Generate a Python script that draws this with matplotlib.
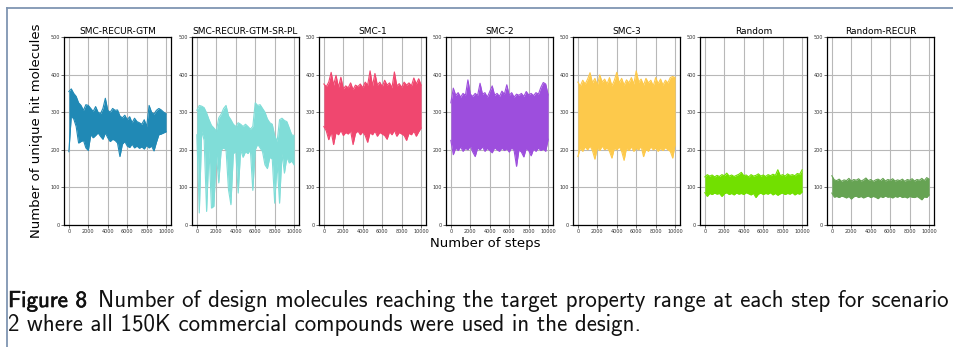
import matplotlib
matplotlib.use("Agg")
import matplotlib.pyplot as plt
import matplotlib.patheffects as pe
from matplotlib.lines import Line2D
import numpy as np

steps = np.arange(0, 10001, 250)

names = ["SMC-RECUR-GTM", "SMC-RECUR-GTM-SR-PL", "SMC-1", "SMC-2", "SMC-3",
         "Random", "Random-RECUR"]
colors = ["#2089b5", "#80ddd8", "#f0476f", "#9d4edd", "#fdc94b", "#72e000", "#66a353"]

# upper / lower edge of each noisy trace
hi_gtm = [355, 362, 350, 342, 325, 318, 305, 320, 318, 310, 302, 315, 300, 296, 310, 337, 305,
          300, 310, 305, 306, 290, 285, 292, 280, 288, 272, 284, 275, 272, 268, 280, 262, 318,
          300, 295, 305, 310, 306, 300, 296]
lo_gtm = [195, 290, 282, 262, 218, 222, 225, 205, 198, 240, 232, 238, 245, 236, 228, 245, 232,
          222, 228, 225, 218, 182, 215, 222, 210, 206, 215, 205, 210, 204, 208, 202, 212, 205,
          210, 197, 220, 240, 242, 245, 248]

hi_srpl = [305, 318, 316, 312, 298, 280, 265, 258, 250, 285, 295, 310, 318, 290, 280, 268, 262,
           272, 268, 262, 268, 262, 255, 262, 325, 318, 320, 310, 300, 282, 272, 268, 238, 222,
           280, 284, 278, 275, 258, 240, 238]
lo_srpl = [240, 32, 250, 225, 36, 200, 45, 50, 190, 112, 200, 205, 200, 94, 54, 190, 195,
           85, 200, 180, 195, 190, 200, 92, 200, 215, 205, 195, 160, 150, 180, 175, 58, 165,
           58, 190, 138, 180, 165, 170, 160]

hi_smc1 = [375, 368, 380, 406, 372, 398, 366, 393, 362, 370, 365, 378, 360, 372, 368, 375, 365,
           380, 372, 410, 370, 403, 372, 380, 368, 385, 372, 378, 365, 407, 370, 376, 366, 380,
           372, 378, 370, 391, 375, 389, 372]
lo_smc1 = [262, 250, 227, 248, 214, 246, 240, 252, 238, 246, 242, 250, 214, 244, 250, 240, 248,
           238, 220, 246, 240, 250, 236, 246, 242, 238, 228, 248, 240, 252, 236, 246, 242, 238,
           225, 244, 240, 250, 236, 248, 258]

hi_smc2 = [325, 364, 345, 352, 340, 350, 345, 386, 348, 342, 350, 345, 377, 348, 352, 340, 355,
           370, 345, 350, 342, 356, 348, 373, 345, 352, 340, 348, 345, 350, 342, 355, 346, 350,
           344, 352, 348, 366, 379, 375, 346]
lo_smc2 = [225, 187, 205, 198, 208, 196, 204, 200, 210, 194, 182, 205, 200, 208, 196, 204, 198,
           192, 206, 200, 196, 205, 198, 203, 194, 206, 198, 156, 200, 194, 181, 204, 198, 184,
           202, 196, 205, 198, 202, 196, 228]

hi_smc3 = [380, 370, 385, 375, 388, 405, 378, 390, 372, 399, 380, 388, 375, 392, 370, 385, 406,
           378, 390, 372, 386, 378, 392, 375, 410, 380, 388, 372, 390, 378, 385, 370, 392, 376,
           388, 372, 385, 378, 392, 395, 392]
lo_smc3 = [182, 205, 196, 208, 200, 210, 198, 175, 206, 198, 210, 200, 205, 196, 178, 204, 200,
           208, 196, 172, 205, 198, 208, 196, 204, 200, 210, 182, 202, 196, 208, 200, 205, 196,
           204, 198, 206, 200, 196, 178, 215]

hi_rand = [128, 134, 130, 133, 128, 132, 129, 134, 131, 138, 130, 133, 129, 132, 135, 140, 131,
           133, 128, 134, 130, 132, 136, 130, 133, 129, 134, 131, 135, 132, 147, 131, 134, 130,
           136, 132, 134, 131, 137, 135, 147]
lo_rand = [86, 76, 84, 81, 85, 82, 84, 76, 83, 86, 81, 84, 80, 85, 82, 84, 81,
           86, 83, 80, 84, 73, 82, 85, 81, 84, 82, 86, 80, 84, 79, 83, 85, 81,
           84, 82, 86, 80, 84, 82, 88]

hi_rrec = [131, 120, 118, 122, 116, 120, 118, 124, 117, 121, 119, 123, 117, 120, 125, 118, 121,
           116, 120, 122, 118, 124, 117, 121, 119, 123, 117, 120, 118, 122, 116, 121, 119, 123,
           117, 121, 119, 124, 118, 126, 122]
lo_rrec = [85, 74, 76, 73, 77, 75, 72, 76, 69, 75, 77, 73, 76, 72, 75, 77, 73,
           76, 74, 70, 76, 73, 77, 74, 75, 72, 76, 74, 77, 73, 75, 72, 76, 74,
           73, 76, 72, 67, 75, 73, 80]

highs = [hi_gtm, hi_srpl, hi_smc1, hi_smc2, hi_smc3, hi_rand, hi_rrec]
lows = [lo_gtm, lo_srpl, lo_smc1, lo_smc2, lo_smc3, lo_rand, lo_rrec]

W, H = 954, 347
fig = plt.figure(figsize=(W / 100, H / 100), dpi=100)

lefts = [64, 192, 319, 446, 573, 700, 827]
for i, name in enumerate(names):
    ax = fig.add_axes([lefts[i] / W, (H - 225) / H, 107 / W, 188 / H])
    c = colors[i]
    ax.fill_between(steps, lows[i], highs[i], color=c, lw=0)
    ax.plot(steps, highs[i], color=c, lw=0.8)
    ax.plot(steps, lows[i], color=c, lw=0.8)
    ax.set_ylim(0, 500)
    ax.set_yticks(range(0, 501, 100))
    ax.set_xticks(range(0, 10001, 2000))
    ax.tick_params(labelsize=3.5, length=2, width=0.5, pad=1, colors="#333333")
    ax.grid(True, color="#b8b8b8", lw=0.8)
    ax.set_axisbelow(True)
    for s in ax.spines.values():
        s.set_linewidth(0.9)
    ax.set_title(name, fontsize=6.5, pad=2)

fig.text(37 / W, 1 - 131 / H, "Number of unique hit molecules", rotation=90,
         ha="center", va="center", fontsize=9.5)
fig.text(485 / W, 1 - 243 / H, "Number of steps", ha="center", va="center", fontsize=9.5)

# page frame
frame = "#7f95b2"
fig.add_artist(Line2D([7 / W, 1], [1 - 8 / H, 1 - 8 / H], color=frame, lw=1.3))
fig.add_artist(Line2D([7 / W, 7 / W], [0, 1 - 8 / H], color=frame, lw=1.3))

# caption; the first line should run from x=8 to x=948
cap_font = "cmss10"
ink = "#111111"
rest1 = "Number of design molecules reaching the target property range at each step for scenario"
line2 = "2 where all 150K commercial compounds were used in the design."
gap = 11
r = fig.canvas.get_renderer()
t_bold = fig.text(8 / W, 1 - 307 / H, "Figure 8", fontsize=14, family=cap_font,
                  color=ink, va="baseline",
                  path_effects=[pe.withStroke(linewidth=0.45, foreground=ink)])
t_rest = fig.text(0, 1 - 307 / H, rest1, fontsize=14, family=cap_font, color=ink,
                  va="baseline")
fs = 14.0
for _ in range(4):
    t_bold.set_fontsize(fs)
    t_rest.set_fontsize(fs)
    bx = t_bold.get_window_extent(r).x1 + gap
    t_rest.set_x(bx / W)
    end = t_rest.get_window_extent(r).x1
    fs = fs * (948 - 8) / (end - 8)
t_bold.set_fontsize(fs)
t_rest.set_fontsize(fs)
t_rest.set_x((t_bold.get_window_extent(r).x1 + gap) / W)
fig.text(8 / W, 1 - 331 / H, line2, fontsize=fs, family=cap_font, color=ink, va="baseline")

fig.savefig("out.png", dpi=100)
